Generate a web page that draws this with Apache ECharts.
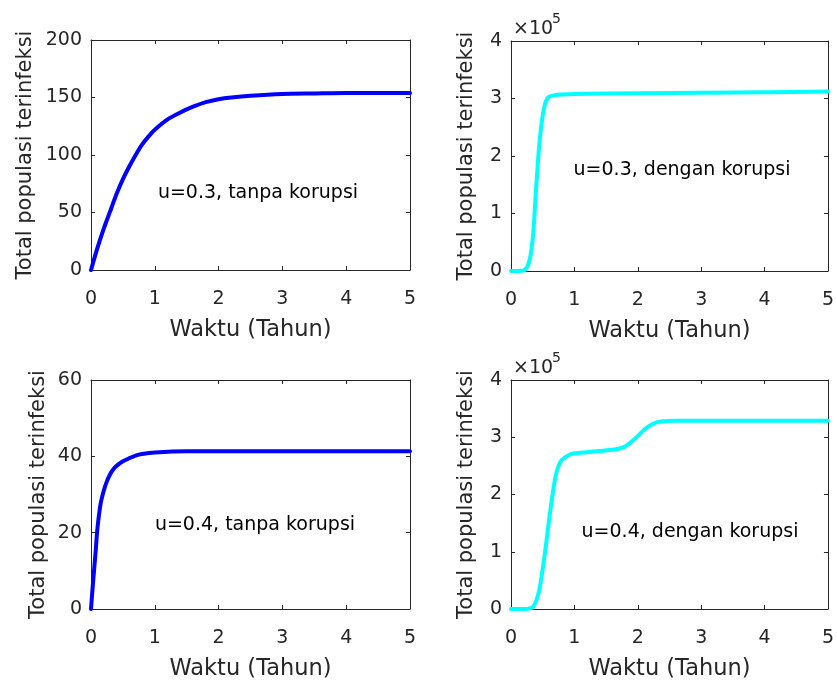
<!DOCTYPE html>
<html>
<head>
<meta charset="utf-8">
<script src="https://cdn.jsdelivr.net/npm/echarts@6/dist/echarts.min.js"></script>
<style>
html,body{margin:0;padding:0;background:#fff;}
#chart{width:837px;height:682px;}
</style>
</head>
<body>
<div id="chart"></div>
<script>
// ---- Data ----
const xTicks = [0, 1, 2, 3, 4, 5];
const xLabel = 'Waktu (Tahun)';
const yLabel = 'Total populasi terinfeksi';
const notes = ['u=0.3, tanpa korupsi', 'u=0.3, dengan korupsi', 'u=0.4, tanpa korupsi', 'u=0.4, dengan korupsi'];

// u=0.3, tanpa korupsi
const tA = [0, 0.1, 0.2, 0.3, 0.4, 0.5, 0.6, 0.7, 0.8, 0.9, 1.0, 1.2, 1.4, 1.6, 1.8, 2.0, 2.2, 2.5, 3.0, 3.5, 4.0, 5.0];
const yA = [0, 19, 36, 51, 66, 79, 90, 100, 109, 116, 122, 131, 137, 142, 146, 148.5, 150, 151.5, 153, 153.5, 154, 154];

// u=0.3, dengan korupsi (x 10^5)
const tB = [0, 0.1, 0.15, 0.2, 0.25, 0.3, 0.35, 0.4, 0.45, 0.5, 0.55, 0.6, 0.7, 0.8, 1.0, 2.0, 3.0, 4.0, 5.0];
const yB = [0, 0, 0.003, 0.01, 0.06, 0.22, 0.65, 1.5, 2.25, 2.7, 2.95, 3.03, 3.06, 3.07, 3.08, 3.09, 3.10, 3.11, 3.12];

// u=0.4, tanpa korupsi
const tC = [0, 0.025, 0.05, 0.075, 0.1, 0.15, 0.2, 0.25, 0.3, 0.35, 0.4, 0.5, 0.6, 0.7, 0.8, 1.0, 1.5, 2.0, 3.0, 5.0];
const yC = [0, 5.5, 10.5, 15.5, 21, 27.5, 31, 33.5, 35.3, 36.6, 37.5, 38.7, 39.5, 40.2, 40.6, 41, 41.3, 41.3, 41.3, 41.3];

// u=0.4, dengan korupsi (x 10^5)
const tD = [0, 0.2, 0.3, 0.35, 0.4, 0.45, 0.5, 0.55, 0.6, 0.65, 0.7, 0.75, 0.8, 0.9, 1.0, 1.2, 1.4, 1.6, 1.7, 1.8, 1.9, 2.0, 2.1, 2.2, 2.3, 2.4, 2.6, 3.0, 4.0, 5.0];
const yD = [0, 0, 0.01, 0.04, 0.15, 0.35, 0.7, 1.1, 1.55, 1.95, 2.3, 2.5, 2.6, 2.68, 2.72, 2.74, 2.76, 2.78, 2.8, 2.84, 2.92, 3.02, 3.13, 3.21, 3.26, 3.28, 3.29, 3.29, 3.29, 3.29];

const scaleB = 1e5;
const yMaxes = [200, 4e5, 60, 4e5];
const yIntervals = [50, 1e5, 20, 1e5];

// ---- Build chart ----
const FONT = 'DejaVu Sans';
const AX = '#262626';
const grids = [
  {left: 91, top: 40, width: 319, height: 230},
  {left: 511, top: 41, width: 319, height: 230},
  {left: 91, top: 380, width: 319, height: 229},
  {left: 511, top: 380, width: 319, height: 229}
];
const yNameGaps = [55, 34, 42, 34];
const colors = ['#0000FF', '#00FFFF', '#0000FF', '#00FFFF'];
const datasets = [
  tA.map((t, i) => [t, yA[i]]),
  tB.map((t, i) => [t, yB[i] * scaleB]),
  tC.map((t, i) => [t, yC[i]]),
  tD.map((t, i) => [t, yD[i] * scaleB])
];

const xAxes = [], yAxes = [], series = [];
grids.forEach((g, i) => {
  const common = {
    gridIndex: i, type: 'value', splitLine: {show: false},
    axisLine: {show: true, onZero: false, lineStyle: {color: AX, width: 1}},
    axisTick: {show: true, inside: true, length: 4, lineStyle: {color: AX}}
  };
  xAxes.push(Object.assign({}, common, {
    position: 'bottom', min: xTicks[0], max: xTicks[xTicks.length - 1], interval: 1,
    axisLabel: {fontSize: 19, fontFamily: FONT, color: AX, margin: 20},
    name: xLabel, nameLocation: 'middle', nameGap: 49,
    nameTextStyle: {fontSize: 22.5, fontFamily: FONT, color: AX}
  }));
  xAxes.push(Object.assign({}, common, {
    position: 'top', min: xTicks[0], max: xTicks[xTicks.length - 1], interval: 1,
    axisLabel: {show: false}
  }));
  const big = yMaxes[i] > 1000;
  yAxes.push(Object.assign({}, common, {
    position: 'left', min: 0, max: yMaxes[i], interval: yIntervals[i],
    axisLabel: {fontSize: 19, fontFamily: FONT, color: AX, margin: 9,
      formatter: v => big ? String(Math.round(v / scaleB)) : String(v)},
    name: yLabel, nameLocation: 'middle', nameGap: yNameGaps[i],
    nameTextStyle: {fontSize: 21, fontFamily: FONT, color: AX}
  }));
  yAxes.push(Object.assign({}, common, {
    position: 'right', min: 0, max: yMaxes[i], interval: yIntervals[i],
    axisLabel: {show: false}
  }));
  series.push({
    type: 'line', xAxisIndex: 2 * i, yAxisIndex: 2 * i,
    data: datasets[i], showSymbol: false, symbol: 'none',
    smooth: 0.25,
    lineStyle: {color: colors[i], width: 4, join: 'round', cap: 'round'}, animation: false
  });
});

const noteStyle = {font: '19px "DejaVu Sans"', fill: '#000', align: 'center', verticalAlign: 'middle'};
const graphics = [
  {type: 'text', x: 258, y: 193, style: Object.assign({text: notes[0]}, noteStyle)},
  {type: 'text', x: 682, y: 170, style: Object.assign({text: notes[1]}, noteStyle)},
  {type: 'text', x: 255, y: 525, style: Object.assign({text: notes[2]}, noteStyle)},
  {type: 'text', x: 690, y: 532, style: Object.assign({text: notes[3]}, noteStyle)}
];
[[513, 29], [513, 368]].forEach(p => {
  graphics.push({type: 'text', x: p[0], y: p[1], style: {text: '×10', font: '19px "DejaVu Sans"', fill: AX, align: 'left', verticalAlign: 'middle'}});
  graphics.push({type: 'text', x: 552, y: p[1] - 10, style: {text: '5', font: '14px "DejaVu Sans"', fill: AX, align: 'left', verticalAlign: 'middle'}});
});

const chart = echarts.init(document.getElementById('chart'), null, {renderer: 'canvas'});
chart.setOption({
  backgroundColor: '#fff',
  animation: false,
  grid: grids,
  xAxis: xAxes,
  yAxis: yAxes,
  series: series,
  graphic: graphics
});
</script>
</body>
</html>
